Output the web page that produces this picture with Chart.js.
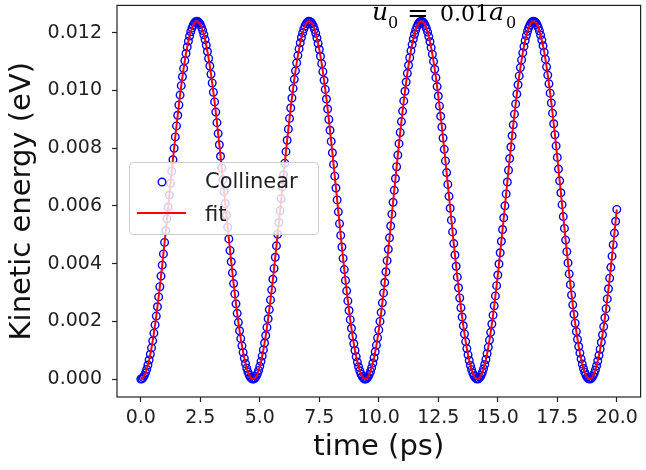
<!DOCTYPE html>
<html>
<head>
<meta charset="utf-8">
<title>Kinetic energy vs time</title>
<script src="https://cdn.jsdelivr.net/npm/chart.js@4.4.1/dist/chart.umd.min.js"></script>
<style>
  html, body { margin: 0; padding: 0; background: #fff; }
  canvas { display: block; }
</style>
</head>
<body>
<canvas id="chart" width="646" height="470"></canvas>
<script>
// time axis (ps), one sample every 0.05 ps
const timePs = [
  0, 0.05, 0.1, 0.15, 0.2, 0.25, 0.3, 0.35, 0.4, 0.45,
  0.5, 0.55, 0.6, 0.65, 0.7, 0.75, 0.8, 0.85, 0.9, 0.95,
  1, 1.05, 1.1, 1.15, 1.2, 1.25, 1.3, 1.35, 1.4, 1.45,
  1.5, 1.55, 1.6, 1.65, 1.7, 1.75, 1.8, 1.85, 1.9, 1.95,
  2, 2.05, 2.1, 2.15, 2.2, 2.25, 2.3, 2.35, 2.4, 2.45,
  2.5, 2.55, 2.6, 2.65, 2.7, 2.75, 2.8, 2.85, 2.9, 2.95,
  3, 3.05, 3.1, 3.15, 3.2, 3.25, 3.3, 3.35, 3.4, 3.45,
  3.5, 3.55, 3.6, 3.65, 3.7, 3.75, 3.8, 3.85, 3.9, 3.95,
  4, 4.05, 4.1, 4.15, 4.2, 4.25, 4.3, 4.35, 4.4, 4.45,
  4.5, 4.55, 4.6, 4.65, 4.7, 4.75, 4.8, 4.85, 4.9, 4.95,
  5, 5.05, 5.1, 5.15, 5.2, 5.25, 5.3, 5.35, 5.4, 5.45,
  5.5, 5.55, 5.6, 5.65, 5.7, 5.75, 5.8, 5.85, 5.9, 5.95,
  6, 6.05, 6.1, 6.15, 6.2, 6.25, 6.3, 6.35, 6.4, 6.45,
  6.5, 6.55, 6.6, 6.65, 6.7, 6.75, 6.8, 6.85, 6.9, 6.95,
  7, 7.05, 7.1, 7.15, 7.2, 7.25, 7.3, 7.35, 7.4, 7.45,
  7.5, 7.55, 7.6, 7.65, 7.7, 7.75, 7.8, 7.85, 7.9, 7.95,
  8, 8.05, 8.1, 8.15, 8.2, 8.25, 8.3, 8.35, 8.4, 8.45,
  8.5, 8.55, 8.6, 8.65, 8.7, 8.75, 8.8, 8.85, 8.9, 8.95,
  9, 9.05, 9.1, 9.15, 9.2, 9.25, 9.3, 9.35, 9.4, 9.45,
  9.5, 9.55, 9.6, 9.65, 9.7, 9.75, 9.8, 9.85, 9.9, 9.95,
  10, 10.05, 10.1, 10.15, 10.2, 10.25, 10.3, 10.35, 10.4, 10.45,
  10.5, 10.55, 10.6, 10.65, 10.7, 10.75, 10.8, 10.85, 10.9, 10.95,
  11, 11.05, 11.1, 11.15, 11.2, 11.25, 11.3, 11.35, 11.4, 11.45,
  11.5, 11.55, 11.6, 11.65, 11.7, 11.75, 11.8, 11.85, 11.9, 11.95,
  12, 12.05, 12.1, 12.15, 12.2, 12.25, 12.3, 12.35, 12.4, 12.45,
  12.5, 12.55, 12.6, 12.65, 12.7, 12.75, 12.8, 12.85, 12.9, 12.95,
  13, 13.05, 13.1, 13.15, 13.2, 13.25, 13.3, 13.35, 13.4, 13.45,
  13.5, 13.55, 13.6, 13.65, 13.7, 13.75, 13.8, 13.85, 13.9, 13.95,
  14, 14.05, 14.1, 14.15, 14.2, 14.25, 14.3, 14.35, 14.4, 14.45,
  14.5, 14.55, 14.6, 14.65, 14.7, 14.75, 14.8, 14.85, 14.9, 14.95,
  15, 15.05, 15.1, 15.15, 15.2, 15.25, 15.3, 15.35, 15.4, 15.45,
  15.5, 15.55, 15.6, 15.65, 15.7, 15.75, 15.8, 15.85, 15.9, 15.95,
  16, 16.05, 16.1, 16.15, 16.2, 16.25, 16.3, 16.35, 16.4, 16.45,
  16.5, 16.55, 16.6, 16.65, 16.7, 16.75, 16.8, 16.85, 16.9, 16.95,
  17, 17.05, 17.1, 17.15, 17.2, 17.25, 17.3, 17.35, 17.4, 17.45,
  17.5, 17.55, 17.6, 17.65, 17.7, 17.75, 17.8, 17.85, 17.9, 17.95,
  18, 18.05, 18.1, 18.15, 18.2, 18.25, 18.3, 18.35, 18.4, 18.45,
  18.5, 18.55, 18.6, 18.65, 18.7, 18.75, 18.8, 18.85, 18.9, 18.95,
  19, 19.05, 19.1, 19.15, 19.2, 19.25, 19.3, 19.35, 19.4, 19.45,
  19.5, 19.55, 19.6, 19.65, 19.7, 19.75, 19.8, 19.85, 19.9, 19.95,
  20
];

// kinetic energy (eV), one row per 0.5 ps
const kineticEnergy = [
  0, 0.0000138, 0.0000550, 0.0001235, 0.0002189, 0.0003409, 0.0004889, 0.0006623, 0.0008602, 0.0010818,
  0.0013261, 0.0015921, 0.0018785, 0.0021841, 0.0025075, 0.0028473, 0.0032019, 0.0035699, 0.0039496, 0.0043392,
  0.0047371, 0.0051415, 0.0055506, 0.0059626, 0.0063756, 0.0067879, 0.0071975, 0.0076027, 0.0080017, 0.0083927,
  0.0087739, 0.0091437, 0.0095005, 0.0098427, 0.0101686, 0.0104770, 0.0107663, 0.0110354, 0.0112831, 0.0115082,
  0.0117097, 0.0118868, 0.0120386, 0.0121645, 0.0122640, 0.0123365, 0.0123818, 0.0123997, 0.0123901, 0.0123529,
  0.0122885, 0.0121971, 0.0120790, 0.0119349, 0.0117653, 0.0115710, 0.0113529, 0.0111119, 0.0108491, 0.0105657,
  0.0102629, 0.0099421, 0.0096046, 0.0092521, 0.0088860, 0.0085080, 0.0081197, 0.0077230, 0.0073194, 0.0069109,
  0.0064992, 0.0060862, 0.0056738, 0.0052637, 0.0048577, 0.0044576, 0.0040653, 0.0036825, 0.0033108, 0.0029520,
  0.0026076, 0.0022791, 0.0019680, 0.0016757, 0.0014035, 0.0011526, 0.0009241, 0.0007190, 0.0005382, 0.0003826,
  0.0002527, 0.0001493, 0.0000726, 0.0000232, 0.0000012, 0.0000067, 0.0000398, 0.0001001, 0.0001875, 0.0003016,
  0.0004419, 0.0006077, 0.0007983, 0.0010129, 0.0012506, 0.0015102, 0.0017906, 0.0020906, 0.0024088, 0.0027438,
  0.0030942, 0.0034584, 0.0038347, 0.0042216, 0.0046172, 0.0050198, 0.0054277, 0.0058390, 0.0062519, 0.0066646,
  0.0070752, 0.0074819, 0.0078829, 0.0082765, 0.0086609, 0.0090343, 0.0093951, 0.0097418, 0.0100728, 0.0103866,
  0.0106817, 0.0109570, 0.0112112, 0.0114431, 0.0116518, 0.0118363, 0.0119958, 0.0121295, 0.0122370, 0.0123177,
  0.0123711, 0.0123972, 0.0123958, 0.0123670, 0.0123107, 0.0122274, 0.0121172, 0.0119808, 0.0118187, 0.0116317,
  0.0114207, 0.0111865, 0.0109300, 0.0106527, 0.0103555, 0.0100399, 0.0097073, 0.0093592, 0.0089970, 0.0086224,
  0.0082370, 0.0078426, 0.0074409, 0.0070336, 0.0066227, 0.0062100, 0.0057972, 0.0053862, 0.0049787, 0.0045767,
  0.0041819, 0.0037961, 0.0034209, 0.0030580, 0.0027091, 0.0023757, 0.0020593, 0.0017612, 0.0014829, 0.0012255,
  0.0009901, 0.0007779, 0.0005897, 0.0004265, 0.0002888, 0.0001774, 0.0000927, 0.0000351, 0.0000049, 0.0000022,
  0.0000270, 0.0000792, 0.0001585, 0.0002646, 0.0003971, 0.0005554, 0.0007387, 0.0009462, 0.0011770, 0.0014302,
  0.0017045, 0.0019988, 0.0023116, 0.0026418, 0.0029877, 0.0033480, 0.0037208, 0.0041046, 0.0044978, 0.0048985,
  0.0053050, 0.0057154, 0.0061281, 0.0065410, 0.0069524, 0.0073606, 0.0077635, 0.0081595, 0.0085468, 0.0089236,
  0.0092884, 0.0096395, 0.0099753, 0.0102944, 0.0105953, 0.0108767, 0.0111373, 0.0113761, 0.0115918, 0.0117837,
  0.0119507, 0.0120923, 0.0122076, 0.0122963, 0.0123580, 0.0123923, 0.0123991, 0.0123785, 0.0123304, 0.0122551,
  0.0121530, 0.0120244, 0.0118699, 0.0116904, 0.0114864, 0.0112590, 0.0110091, 0.0107380, 0.0104466, 0.0101364,
  0.0098087, 0.0094650, 0.0091069, 0.0087358, 0.0083535, 0.0079616, 0.0075619, 0.0071562, 0.0067462, 0.0063338,
  0.0059208, 0.0055091, 0.0051003, 0.0046965, 0.0042993, 0.0039106, 0.0035321, 0.0031654, 0.0028121, 0.0024739,
  0.0021523, 0.0018486, 0.0015642, 0.0013004, 0.0010583, 0.0008390, 0.0006435, 0.0004727, 0.0003273, 0.0002080,
  0.0001153, 0.0000495, 0.0000111, 0.0000001, 0.0000167, 0.0000606, 0.0001318, 0.0002300, 0.0003547, 0.0005053,
  0.0006811, 0.0008815, 0.0011054, 0.0013520, 0.0016201, 0.0019085, 0.0022159, 0.0025411, 0.0028824, 0.0032385,
  0.0036077, 0.0039885, 0.0043790, 0.0047776, 0.0051826, 0.0055921, 0.0060043, 0.0064173, 0.0068293, 0.0072386,
  0.0076433, 0.0080416, 0.0084316, 0.0088118, 0.0091804, 0.0095358, 0.0098763, 0.0102006, 0.0105071, 0.0107945,
  0.0110614, 0.0113068, 0.0115296, 0.0117287, 0.0119032, 0.0120525, 0.0121758, 0.0122726, 0.0123423, 0.0123849,
  0.0124000, 0.0123876, 0.0123477, 0.0122806, 0.0121864, 0.0120657, 0.0119189, 0.0117468, 0.0115501, 0.0113297,
  0.0110864, 0.0108214, 0.0105360, 0.0102313, 0.0099087, 0.0095697, 0.0092157, 0.0088484, 0.0084692, 0.0080801,
  0.0076825, 0.0072784, 0.0068694, 0.0064576, 0.0060446, 0.0056322, 0.0052224, 0.0048169, 0.0044176, 0.0040262,
  0.0036444, 0.0032740, 0.0029165, 0.0025736, 0.0022469, 0.0019376, 0.0016473, 0.0013772, 0.0011285, 0.0009023,
  0.0006996, 0.0005213, 0.0003682, 0.0002411, 0.0001403, 0.0000664, 0.0000197, 0.0000005, 0.0000088, 0.0000446,
  0.0001077, 0.0001979, 0.0003147, 0.0004575, 0.0006259, 0.0008190, 0.0010361, 0.0012761, 0.0015378, 0.0018203,
  0.0021221, 0.0024422, 0.0027788, 0.0031307, 0.0034961, 0.0038735, 0.0042613, 0.0046578, 0.0050610, 0.0054693,
  0.0058808
];

// fitted curve sits on top of the samples
const fitEnergy = kineticEnergy;

const seriesNames = ["Collinear", "fit"];
const xTickValues = [0, 2.5, 5, 7.5, 10, 12.5, 15, 17.5, 20];
const yTickValues = [0, 0.002, 0.004, 0.006, 0.008, 0.010, 0.012];
const xRange = [-1, 21];
const yRange = [-0.00062, 0.01295];

const toPoints = (ys) => timePs.map((t, i) => ({ x: t, y: ys[i] }));

Chart.defaults.font.family = '"DejaVu Sans", sans-serif';
Chart.defaults.color = "#222";

// box around the axes, the u0 label and the legend, drawn matplotlib style
const decorations = {
  id: "decorations",
  afterDatasetsDraw(chart) {
    const { ctx, chartArea: a } = chart;
    ctx.save();
    ctx.strokeStyle = "#222";
    ctx.lineWidth = 1.2;
    ctx.strokeRect(a.left, a.top, a.right - a.left, a.bottom - a.top);

    // u_0 = 0.01 a_0
    ctx.fillStyle = "#000";
    ctx.textBaseline = "alphabetic";
    ctx.font = 'italic 25px "DejaVu Serif"';
    ctx.fillText("u", 372, 20);
    ctx.fillText("a", 489, 20);
    ctx.font = '16px "DejaVu Serif"';
    ctx.fillText("0", 388, 28);
    ctx.fillText("0", 506, 28);
    ctx.font = '26px "DejaVu Serif"';
    ctx.fillText("=", 407, 22);
    ctx.font = '22px "DejaVu Serif"';
    ctx.fillText("0.01", 440, 21);

    // legend
    const sets = chart.data.datasets;
    ctx.beginPath();
    ctx.roundRect(129.5, 162.5, 189, 72, 4);
    ctx.fillStyle = "rgba(255,255,255,0.8)";
    ctx.fill();
    ctx.strokeStyle = "#cccccc";
    ctx.lineWidth = 1;
    ctx.stroke();

    ctx.beginPath();
    ctx.arc(162, 182, 3.8, 0, Math.PI * 2);
    ctx.strokeStyle = sets[1].pointBorderColor;
    ctx.lineWidth = 1.4;
    ctx.stroke();

    ctx.beginPath();
    ctx.moveTo(137, 213);
    ctx.lineTo(186, 213);
    ctx.strokeStyle = sets[0].borderColor;
    ctx.lineWidth = 2;
    ctx.stroke();

    ctx.fillStyle = "#222";
    ctx.font = '21px "DejaVu Sans"';
    ctx.fillText(seriesNames[0], 205, 188);
    ctx.fillText(seriesNames[1], 205, 221);
    ctx.restore();
  }
};

new Chart(document.getElementById("chart"), {
  type: "scatter",
  data: {
    datasets: [
      {
        label: seriesNames[1],
        data: toPoints(fitEnergy),
        showLine: true,
        borderColor: "#ff0000",
        borderWidth: 2,
        pointRadius: 0,
        tension: 0,
        order: 0
      },
      {
        label: seriesNames[0],
        data: toPoints(kineticEnergy),
        showLine: false,
        pointStyle: "circle",
        pointRadius: 3.8,
        pointBorderWidth: 1.4,
        pointBorderColor: "#0000ff",
        pointBackgroundColor: "rgba(0,0,0,0)",
        order: 1
      }
    ]
  },
  options: {
    responsive: false,
    animation: false,
    devicePixelRatio: 1,
    layout: { padding: { top: 2, right: 0, bottom: 0, left: 0 } },
    plugins: { legend: { display: false }, tooltip: { enabled: false } },
    scales: {
      x: {
        type: "linear",
        min: xRange[0],
        max: xRange[1],
        afterBuildTicks: (s) => { s.ticks = xTickValues.map((v) => ({ value: v })); },
        afterFit: (s) => { s.height = 73; s.paddingLeft = 0; s.paddingRight = 0; },
        ticks: {
          callback: (v) => Number(v).toFixed(1),
          font: { size: 19 },
          padding: 5,
          maxRotation: 0,
          autoSkip: false
        },
        grid: { drawOnChartArea: false, drawTicks: true, tickLength: 5, tickColor: "#222", tickWidth: 1.2 },
        border: { display: false },
        title: { display: true, text: "time (ps)", font: { size: 29 }, color: "#111", padding: { top: 0, bottom: 5 } }
      },
      y: {
        type: "linear",
        min: yRange[0],
        max: yRange[1],
        afterBuildTicks: (s) => { s.ticks = yTickValues.map((v) => ({ value: v })); },
        afterFit: (s) => { s.width = 117; s.paddingTop = 0; s.paddingBottom = 0; },
        ticks: {
          callback: (v) => Number(v).toFixed(3),
          font: { size: 19 },
          padding: 10,
          autoSkip: false
        },
        grid: { drawOnChartArea: false, drawTicks: true, tickLength: 5, tickColor: "#222", tickWidth: 1.2 },
        border: { display: false },
        title: { display: true, text: "Kinetic energy (eV)", font: { size: 29 }, color: "#111", padding: { top: 5, bottom: 0 } }
      }
    }
  },
  plugins: [decorations]
});
</script>
</body>
</html>
